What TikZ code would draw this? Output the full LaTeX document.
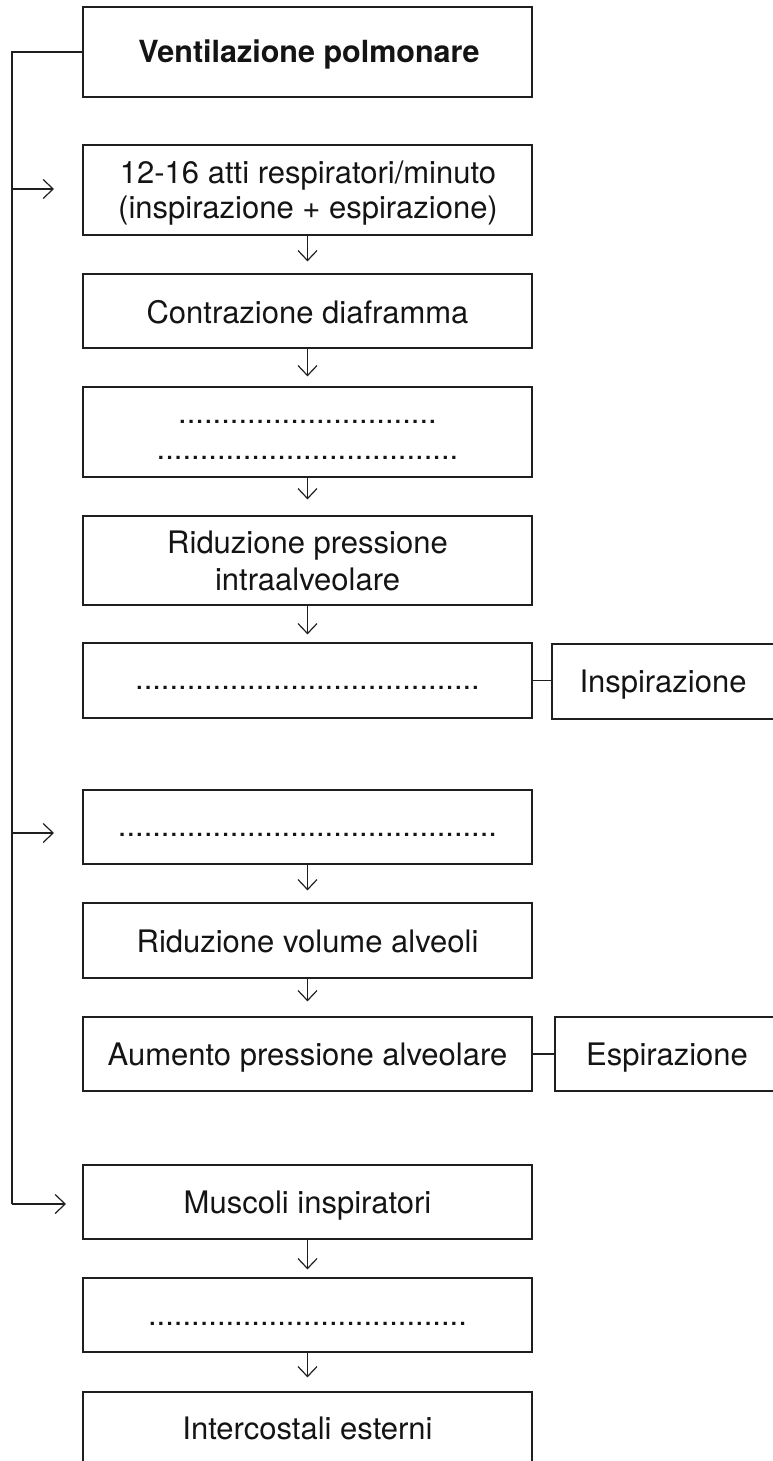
\documentclass[tikz,border=0pt]{standalone}
\usepackage{fontspec}
\setmainfont{TeX Gyre Heros}
\usetikzlibrary{arrows.meta}
\begin{document}
\begin{tikzpicture}[x=1pt,y=-1pt,
  box/.style={draw=black!88, line width=1.2pt, minimum width=449pt, inner sep=0pt},
  rbox/.style={draw=black!88, line width=1.2pt, minimum width=248pt, inner sep=0pt},
  txt/.style={inner sep=0pt, anchor=base, text=black!92, font=\fontsize{31}{37}\selectfont},
  conn/.style={line width=1.2pt, draw=black!88},
  arr/.style={conn, -{Straight Barb[length=10pt,width=19pt]}}
]
\useasboundingbox (0,0) rectangle (772,1461);

% main boxes
\node[box, minimum height=90pt] (b1) at (307.5,52) {};
\node[box, minimum height=90pt] (b2) at (307.5,190) {};
\node[box, minimum height=74pt] (b3) at (307.5,311) {};
\node[box, minimum height=90pt] (b4) at (307.5,432) {};
\node[box, minimum height=89pt] (b5) at (307.5,560.5) {};
\node[box, minimum height=75pt] (b6) at (307.5,680.5) {};
\node[box, minimum height=74pt] (b7) at (307.5,827) {};
\node[box, minimum height=75pt] (b8) at (307.5,940.5) {};
\node[box, minimum height=74pt] (b9) at (307.5,1054) {};
\node[box, minimum height=74pt] (b10) at (307.5,1202) {};
\node[box, minimum height=74pt] (b11) at (307.5,1315) {};
\node[box, minimum height=74pt] (b12) at (307.5,1429) {};

% side boxes
\node[rbox, minimum height=75pt] (bi) at (676,681.5) {};
\node[rbox, minimum height=74pt, minimum width=245pt] (be) at (677.5,1054) {};

% texts
\node[txt, font=\bfseries\fontsize{30.5}{36}\selectfont] (t1) at (309,63) {Ventilazione polmonare};
\node[txt] (t2a) at (308,183) {12-16 atti respiratori/minuto};
\node[txt] (t2b) at (308,218) {(inspirazione + espirazione)};
\node[txt] (t3) at (307.5,323) {Contrazione diaframma};
\node[txt] (t4a) at (307.5,423) {..............................};
\node[txt] (t4b) at (307.5,459) {...................................};
\node[txt] (t5a) at (307.5,553) {Riduzione pressione};
\node[txt] (t5b) at (307.5,590) {intraalveolare};
\node[txt] (t6) at (307.5,689) {........................................};
\node[txt] (ti) at (663,692) {Inspirazione};
\node[txt] (t7) at (307.5,836) {............................................};
\node[txt] (t8) at (307.5,952) {Riduzione volume alveoli};
\node[txt] (t9) at (307.5,1065) {Aumento pressione alveolare};
\node[txt] (te) at (667,1065) {Espirazione};
\node[txt] (t10) at (307.5,1213) {Muscoli inspiratori};
\node[txt] (t11) at (307.5,1325) {.....................................};
\node[txt] (t12) at (307.5,1439) {Intercostali esterni};

% trunk coordinates
\coordinate (s2) at (12,189);
\coordinate (e2) at (54,189);
\coordinate (s7) at (12,833);
\coordinate (e7) at (54,833);
\coordinate (s10) at (12,1204);
\coordinate (e10) at (66,1204);

\draw[conn] (b1.west) -- (b1.west -| s10) -- (s10);
\draw[arr] (s2) -- (e2);
\draw[arr] (s7) -- (e7);
\draw[arr] (s10) -- (e10);

% down arrows
\draw[arr, shorten >=12pt] (b2.south) -- (b3.north);
\draw[arr, shorten >=10pt] (b3.south) -- (b4.north);
\draw[arr, shorten >=16pt] (b4.south) -- (b5.north);
\draw[arr, shorten >=8pt] (b5.south) -- (b6.north);
\draw[arr, shorten >=12pt] (b7.south) -- (b8.north);
\draw[arr, shorten >=15pt] (b8.south) -- (b9.north);
\draw[arr, shorten >=8pt] (b10.south) -- (b11.north);
\draw[arr, shorten >=14pt] (b11.south) -- (b12.north);

% side connectors
\draw[conn] (b6.east) -- (b6.east -| bi.west);
\draw[conn] (b9.east) -- (b9.east -| be.west);
\end{tikzpicture}
\end{document}
